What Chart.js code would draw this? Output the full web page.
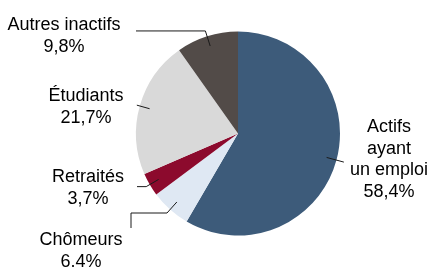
<!DOCTYPE html>
<html>
<head>
<meta charset="utf-8">
<script src="https://cdn.jsdelivr.net/npm/chart.js@4"></script>
<style>
html,body{margin:0;padding:0;background:#fff;}
#wrap{width:433px;height:269px;position:relative;}
</style>
</head>
<body>
<div id="wrap"><canvas id="c" width="433" height="269"></canvas></div>
<script>
// Data
const categories = ["Actifs ayant un emploi", "Chômeurs", "Retraités", "Étudiants", "Autres inactifs"];
const values = [58.4, 6.4, 3.7, 21.7, 9.8];
const valueLabels = ["58,4%", "6.4%", "3,7%", "21,7%", "9,8%"];
const labelLines = [["Actifs", "ayant", "un emploi"], ["Chômeurs"], ["Retraités"], ["Étudiants"], ["Autres inactifs"]];
const colors = ["#3d5b7a", "#dfe8f3", "#8c0a2d", "#d9d9d9", "#524b48"];

// Layout for external labels (positions only)
const labelPos = [
  {x: 389, y: 132},
  {x: 81, y: 245},
  {x: 88, y: 182},
  {x: 86, y: 101},
  {x: 64, y: 30}
];
const leaderOuter = [1.075, 1.045, 1.04, 1.03, 1.055];
const leaderTail = [
  [],
  [[131, null], [131, 228]],
  [[137, null]],
  [],
  [[136, null]]
];

const labelPlugin = {
  id: 'extLabels',
  afterDraw(chart) {
    const ctx = chart.ctx;
    const meta = chart.getDatasetMeta(0);
    ctx.save();
    ctx.strokeStyle = '#1a1a1a';
    ctx.lineWidth = 1;
    meta.data.forEach((arc, i) => {
      const p = arc.getProps(['x', 'y', 'startAngle', 'endAngle', 'outerRadius'], true);
      const mid = (p.startAngle + p.endAngle) / 2;
      const r = p.outerRadius;
      const x1 = p.x + Math.cos(mid) * r * 0.9, y1 = p.y + Math.sin(mid) * r * 0.9;
      const x2 = p.x + Math.cos(mid) * r * leaderOuter[i], y2 = p.y + Math.sin(mid) * r * leaderOuter[i];
      ctx.beginPath();
      ctx.moveTo(x1, y1);
      ctx.lineTo(x2, y2);
      let cy = y2;
      leaderTail[i].forEach(pt => {
        const yy = pt[1] === null ? cy : pt[1];
        ctx.lineTo(pt[0], yy);
        cy = yy;
      });
      ctx.stroke();
    });
    ctx.fillStyle = '#000';
    ctx.font = '18px "Liberation Sans", Arial, sans-serif';
    ctx.textAlign = 'center';
    ctx.textBaseline = 'alphabetic';
    const lh = 21.5;
    labelLines.forEach((lines, i) => {
      const all = lines.concat([valueLabels[i]]);
      all.forEach((t, k) => ctx.fillText(t, labelPos[i].x, labelPos[i].y + k * lh));
    });
    ctx.restore();
  }
};

new Chart(document.getElementById('c'), {
  type: 'pie',
  data: {
    labels: categories,
    datasets: [{
      data: values,
      backgroundColor: colors,
      borderWidth: 0
    }]
  },
  options: {
    responsive: false,
    animation: false,
    layout: {padding: {top: 31.5, bottom: 33.5, left: 136, right: 93}},
    plugins: {legend: {display: false}, tooltip: {enabled: false}}
  },
  plugins: [labelPlugin]
});
</script>
</body>
</html>
